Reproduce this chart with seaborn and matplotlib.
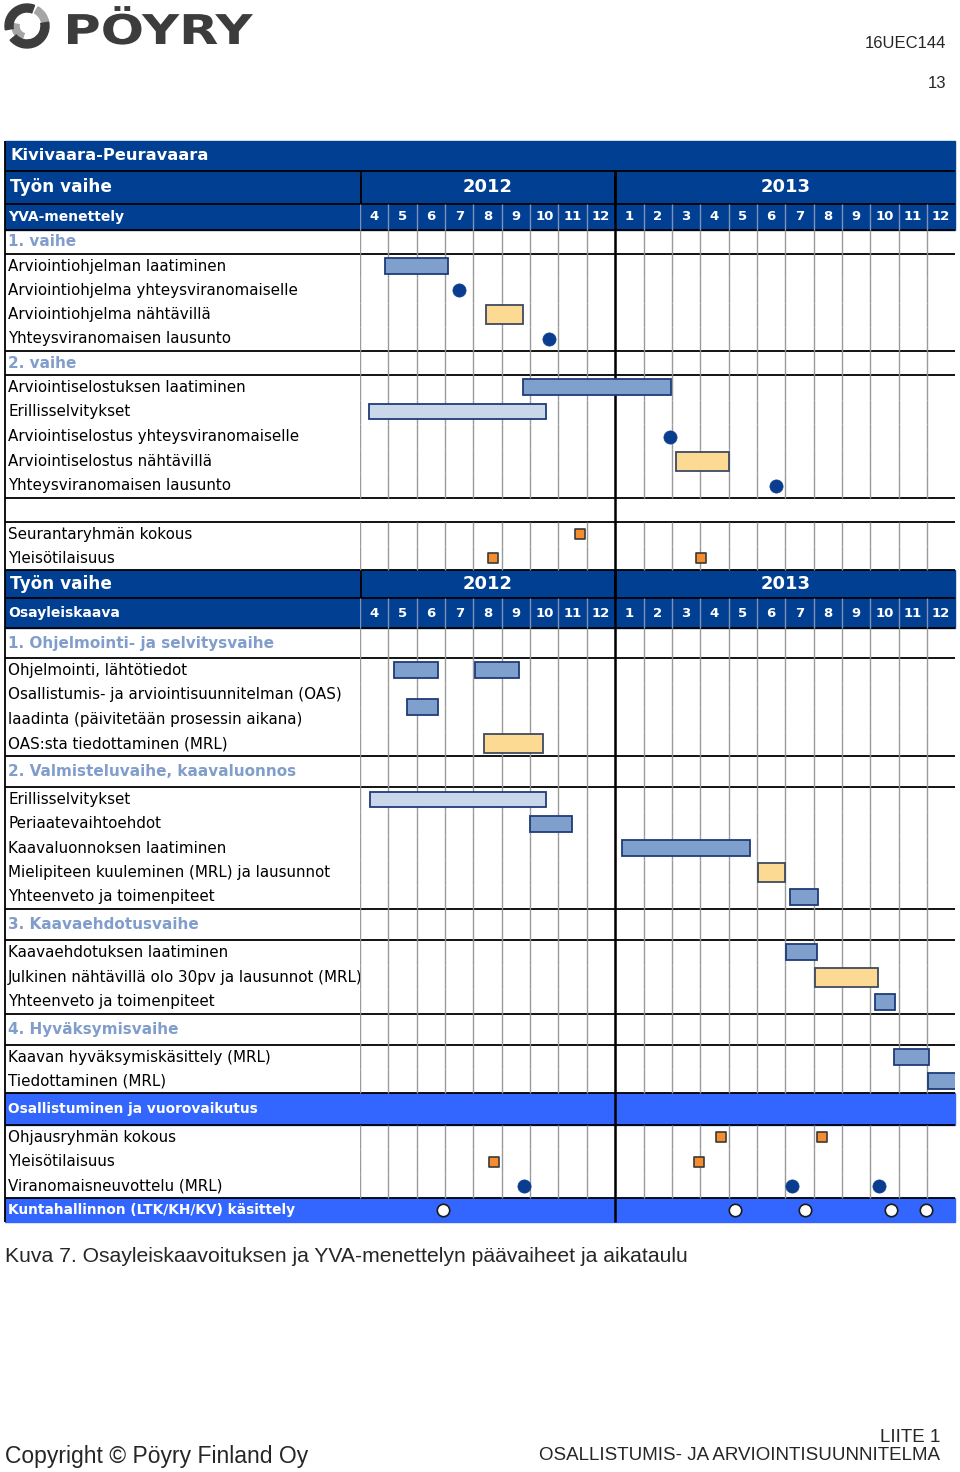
import numpy as np
import pandas as pd
import matplotlib.pyplot as plt
import matplotlib.patches as mpatches
import seaborn as sns
from matplotlib.textpath import TextPath
from matplotlib.font_manager import FontProperties
from matplotlib.transforms import Affine2D

# months shown: 4/2012 - 12/2013
months = ["4", "5", "6", "7", "8", "9", "10", "11", "12",
          "1", "2", "3", "4", "5", "6", "7", "8", "9", "10", "11", "12"]
years = ["2012", "2013"]
year_len = [9, 12]

# table rows (kind, text) top to bottom
rows = [
    ("title", "Kivivaara-Peuravaara"),
    ("year", "Työn vaihe"),
    ("month", "YVA-menettely"),
    ("phase", "1. vaihe"),
    ("task", "Arviointiohjelman laatiminen"),
    ("task", "Arviointiohjelma yhteysviranomaiselle"),
    ("task", "Arviointiohjelma nähtävillä"),
    ("task", "Yhteysviranomaisen lausunto"),
    ("phase", "2. vaihe"),
    ("task", "Arviointiselostuksen laatiminen"),
    ("task", "Erillisselvitykset"),
    ("task", "Arviointiselostus yhteysviranomaiselle"),
    ("task", "Arviointiselostus nähtävillä"),
    ("task", "Yhteysviranomaisen lausunto"),
    ("blank", ""),
    ("task", "Seurantaryhmän kokous"),
    ("task", "Yleisötilaisuus"),
    ("year", "Työn vaihe"),
    ("month", "Osayleiskaava"),
    ("phase", "1. Ohjelmointi- ja selvitysvaihe"),
    ("task", "Ohjelmointi, lähtötiedot"),
    ("task", "Osallistumis- ja arviointisuunnitelman (OAS)"),
    ("task", "laadinta (päivitetään prosessin aikana)"),
    ("task", "OAS:sta tiedottaminen (MRL)"),
    ("phase", "2. Valmisteluvaihe, kaavaluonnos"),
    ("task", "Erillisselvitykset"),
    ("task", "Periaatevaihtoehdot"),
    ("task", "Kaavaluonnoksen laatiminen"),
    ("task", "Mielipiteen kuuleminen (MRL) ja lausunnot"),
    ("task", "Yhteenveto ja toimenpiteet"),
    ("phase", "3. Kaavaehdotusvaihe"),
    ("task", "Kaavaehdotuksen laatiminen"),
    ("task", "Julkinen nähtävillä olo 30pv ja lausunnot (MRL)"),
    ("task", "Yhteenveto ja toimenpiteet"),
    ("phase", "4. Hyväksymisvaihe"),
    ("task", "Kaavan hyväksymiskäsittely (MRL)"),
    ("task", "Tiedottaminen (MRL)"),
    ("band", "Osallistuminen ja vuorovaikutus"),
    ("task", "Ohjausryhmän kokous"),
    ("task", "Yleisötilaisuus"),
    ("task", "Viranomaisneuvottelu (MRL)"),
    ("kunta", "Kuntahallinnon (LTK/KH/KV) käsittely"),
]
# row heights in pixels
row_h = [30, 33, 26, 24] + [24.25] * 4 + [24] + [24.6] * 5 + [24] + [24] * 2 \
    + [28, 30, 30] + [24.5] * 4 + [31] + [24.4] * 5 + [31] + [24.67] * 3 \
    + [31] + [24] * 2 + [32] + [24.33] * 3 + [24]

# bars: row = index among task/blank/kunta rows, start/end in months from 1.4.2012
bar_row = [0, 2, 4, 5, 7, 12, 12, 13.5, 15, 16, 17, 18, 19, 20, 21, 22, 23, 24, 25]
bar_start = [0.88, 4.44, 5.75, 0.32, 11.15, 1.2, 4.06, 1.65, 4.38, 0.36, 6.0,
             9.25, 14.05, 15.17, 15.03, 16.05, 18.17, 18.84, 20.03]
bar_end = [3.1, 5.75, 10.97, 6.56, 13.0, 2.75, 5.6, 2.75, 6.47, 6.56, 7.48,
           13.76, 15.0, 16.17, 16.12, 18.27, 18.87, 20.07, 21.5]
bar_type = ["mid", "yellow", "mid", "light", "yellow", "mid", "mid", "mid", "yellow",
            "light", "mid", "mid", "yellow", "mid", "mid", "yellow", "mid", "mid", "mid"]

# milestones
dot_row = [1, 3, 6, 8, 28, 28, 28]
dot_t = [3.5, 6.67, 10.93, 14.67, 5.78, 15.24, 18.3]
sq_row = [10, 11, 11, 26, 26, 27, 27]
sq_t = [7.77, 4.69, 12.03, 12.74, 16.3, 4.72, 11.96]
kunta_t = [2.93, 13.23, 15.7, 18.73, 19.96]

DARK = "#003f92"
BRIGHT = "#3366ff"
PHASE = "#809dcb"
GRID = "#9a9a9a"
HEADGRID = "#8090b8"
NAVY = "#1f3c78"
bar_face = {"mid": "#7f9fcc", "light": "#cad7ea", "yellow": "#fdda93"}
bar_edge = {"mid": NAVY, "light": NAVY, "yellow": "#3f4a60"}
bar_h = {"mid": 16, "light": 15, "yellow": 19}

sns.set_theme(style="white")
plt.rcParams["font.family"] = ["DejaVu Sans"]

fig = plt.figure(figsize=(9.6, 14.72), dpi=100)
bg = fig.add_axes([0, 0, 1, 1])
bg.set_xlim(0, 960)
bg.set_ylim(1472, 0)
bg.axis("off")

X0 = 360
X1 = 955.35
L, R = 5, 955
nm = len(months)
ax = fig.add_axes([X0 / 960, 0, (X1 - X0) / 960, 1])
ax.set_xlim(0, nm)
ax.set_ylim(1472, 0)
ax.axis("off")

tops = 141 + np.concatenate([[0], np.cumsum(row_h)[:-1]])
mark_y = []
prev = None
for (kind, text), top, h in zip(rows, tops, row_h):
    bot = top + h
    cy = top + h / 2
    if kind in ("title", "year", "month"):
        bg.add_patch(mpatches.Rectangle((L, top), R - L, h, color=DARK, zorder=0))
    if kind in ("band", "kunta"):
        bg.add_patch(mpatches.Rectangle((L, top), R - L, h, color=BRIGHT, zorder=0))
    if prev is not None and kind != prev:
        bg.hlines(top, L, R, color="black", lw=1.3, zorder=3)
    prev = kind

    if kind == "title":
        bg.text(10, cy, text, color="white", fontsize=11.7, fontweight="bold", va="center")
    elif kind == "year":
        bg.text(10, cy, text, color="white", fontsize=12.2, fontweight="bold", va="center")
        ax.vlines([0, year_len[0]], top, bot, color="black", lw=2)
        pos = np.concatenate([[0], np.cumsum(year_len)])
        for yr, a, b in zip(years, pos[:-1], pos[1:]):
            ax.text((a + b) / 2, cy, yr, color="white", fontsize=13, fontweight="bold",
                    ha="center", va="center")
    elif kind == "month":
        bg.text(8, cy, text, color="white", fontsize=10, fontweight="bold", va="center")
        ax.vlines([t for t in range(nm) if t != year_len[0]], top, bot, color=HEADGRID, lw=1)
        for i, m in enumerate(months):
            ax.text(i + 0.5, cy, m, color="white", fontsize=9.5, fontweight="bold",
                    ha="center", va="center")
    elif kind == "phase":
        bg.text(8, cy, text, color=PHASE, fontsize=11, fontweight="bold", va="center")
        ax.vlines(range(nm), top, bot, color=GRID, lw=1)
    elif kind == "task":
        bg.text(8, cy, text, color="black", fontsize=10.9, va="center")
        ax.vlines(range(nm), top, bot, color=GRID, lw=1)
    elif kind in ("band", "kunta"):
        bg.text(8, cy, text, color="white", fontsize=9.9, fontweight="bold", va="center")
    if kind in ("task", "blank", "kunta"):
        mark_y.append(cy)

mark_idx = np.arange(len(mark_y))
# year boundary and left border
ax.vlines(year_len[0], tops[1], tops[-1] + row_h[-1], color="black", lw=1.8, zorder=4)
bg.vlines(L, tops[0], tops[-1] + row_h[-1], color="black", lw=1.3, zorder=3)

# bars
for r, s, e, k in zip(bar_row, bar_start, bar_end, bar_type):
    y = np.interp(r, mark_idx, mark_y)
    ax.barh(y, e - s, left=s, height=bar_h[k], color=bar_face[k],
            edgecolor=bar_edge[k], linewidth=1.3, zorder=5)

# milestones
dots = pd.DataFrame({"t": dot_t, "y": np.interp(dot_row, mark_idx, mark_y)})
sns.scatterplot(data=dots, x="t", y="y", ax=ax, marker="o", s=90, color="#0b3d8f",
                edgecolor="#0b3d8f", linewidth=0.5, zorder=6, legend=False)
squares = pd.DataFrame({"t": sq_t, "y": np.interp(sq_row, mark_idx, mark_y)})
sns.scatterplot(data=squares, x="t", y="y", ax=ax, marker="s", s=50, color="#f58d2e",
                edgecolor="#3a3a3a", linewidth=1.2, zorder=6, legend=False)
kunta = pd.DataFrame({"t": kunta_t, "y": [mark_y[-1]] * len(kunta_t)})
sns.scatterplot(data=kunta, x="t", y="y", ax=ax, marker="o", s=80, color="white",
                edgecolor="#1a1a1a", linewidth=1.2, zorder=6, legend=False)
ax.set_xlim(0, nm)
ax.set_ylim(1472, 0)
ax.axis("off")

# logo (y axis is flipped, so wedge angles run clockwise on screen)
c = (27, 26)
bg.add_patch(mpatches.Wedge(c, 15, 110, 190, width=7, color="#a5a5a5"))
bg.add_patch(mpatches.Wedge(c, 22, 300, 350, width=7, color="#a5a5a5"))
bg.add_patch(mpatches.Wedge(c, 22, 170, 290, width=8, color="#3d3d3d"))
bg.add_patch(mpatches.Wedge(c, 22, -10, 140, width=8, color="#3d3d3d"))
# wide logo lettering: text path stretched horizontally
tp = TextPath((0, 0), "PÖYRY", size=41, prop=FontProperties(family="DejaVu Sans", weight="bold"))
ext = tp.get_extents()
sx = 185 / ext.width
tr = Affine2D().translate(-ext.x0, 0).scale(sx, -1).translate(68, 44)
bg.add_patch(mpatches.PathPatch(tr.transform_path(tp), color="#3c3c3c", lw=0))

# page texts
foot = ["Liberation Sans", "DejaVu Sans"]
bg.text(946, 43, "16UEC144", family=foot, fontsize=12, ha="right", va="center")
bg.text(946, 83, "13", family=foot, fontsize=12, ha="right", va="center")
bg.text(5, 1257, "Kuva 7. Osayleiskaavoituksen ja YVA-menettelyn päävaiheet ja aikataulu",
        family=foot, fontsize=15.2, va="center")
bg.text(5, 1456, "Copyright © Pöyry Finland Oy", family=foot, fontsize=16.5, va="center")
bg.text(940, 1437, "LIITE 1", family=foot, fontsize=13.5, ha="right", va="center")
bg.text(940, 1456, "OSALLISTUMIS- JA ARVIOINTISUUNNITELMA", family=foot, fontsize=13.5,
        ha="right", va="center")

fig.savefig("out.png", dpi=100)
